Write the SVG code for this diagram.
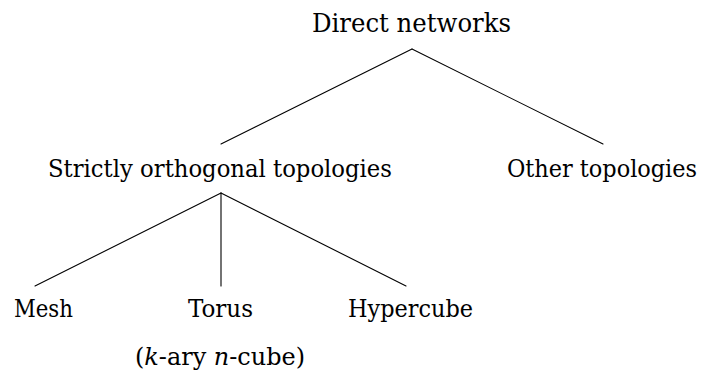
<svg xmlns="http://www.w3.org/2000/svg" width="704" height="376" viewBox="0 0 704 376">
  <style>
    .lbl { font-family: "DejaVu Serif Condensed", "DejaVu Serif", serif; font-stretch: condensed; font-size: 25px; fill: #000; text-anchor: middle; }
    .top { font-size: 26px; }
    .it { font-style: italic; }
    .edge { stroke: #000; stroke-width: 1.1; fill: none; stroke-linecap: round; }
  </style>
  <rect width="704" height="376" fill="#fff"/>

  <!-- tree edges -->
  <g id="connectors">
    <path class="edge" d="M412,49 L221,144"/>
    <path class="edge" d="M412,49 L603,144"/>
    <path class="edge" d="M221,193 L35,286"/>
    <path class="edge" d="M221,193 L221,286"/>
    <path class="edge" d="M221,193 L406,286"/>
  </g>

  <g id="direct-networks">
    <text class="lbl top" x="411.5" y="32" textLength="199" lengthAdjust="spacingAndGlyphs">Direct networks</text>
  </g>
  <g id="strictly-orthogonal">
    <text class="lbl" x="220" y="177" textLength="344" lengthAdjust="spacingAndGlyphs">Strictly orthogonal topologies</text>
  </g>
  <g id="other-topologies">
    <text class="lbl" x="602" y="177" textLength="190" lengthAdjust="spacingAndGlyphs">Other topologies</text>
  </g>
  <g id="mesh">
    <text class="lbl" x="43.5" y="317" textLength="59" lengthAdjust="spacingAndGlyphs">Mesh</text>
  </g>
  <g id="torus">
    <text class="lbl" x="220.5" y="317" textLength="65" lengthAdjust="spacingAndGlyphs">Torus</text>
    <text class="lbl" x="220" y="365" textLength="170" lengthAdjust="spacingAndGlyphs">(<tspan class="it">k</tspan>-ary <tspan class="it">n</tspan>-cube)</text>
  </g>
  <g id="hypercube">
    <text class="lbl" x="410.5" y="317" textLength="125" lengthAdjust="spacingAndGlyphs">Hypercube</text>
  </g>
</svg>
